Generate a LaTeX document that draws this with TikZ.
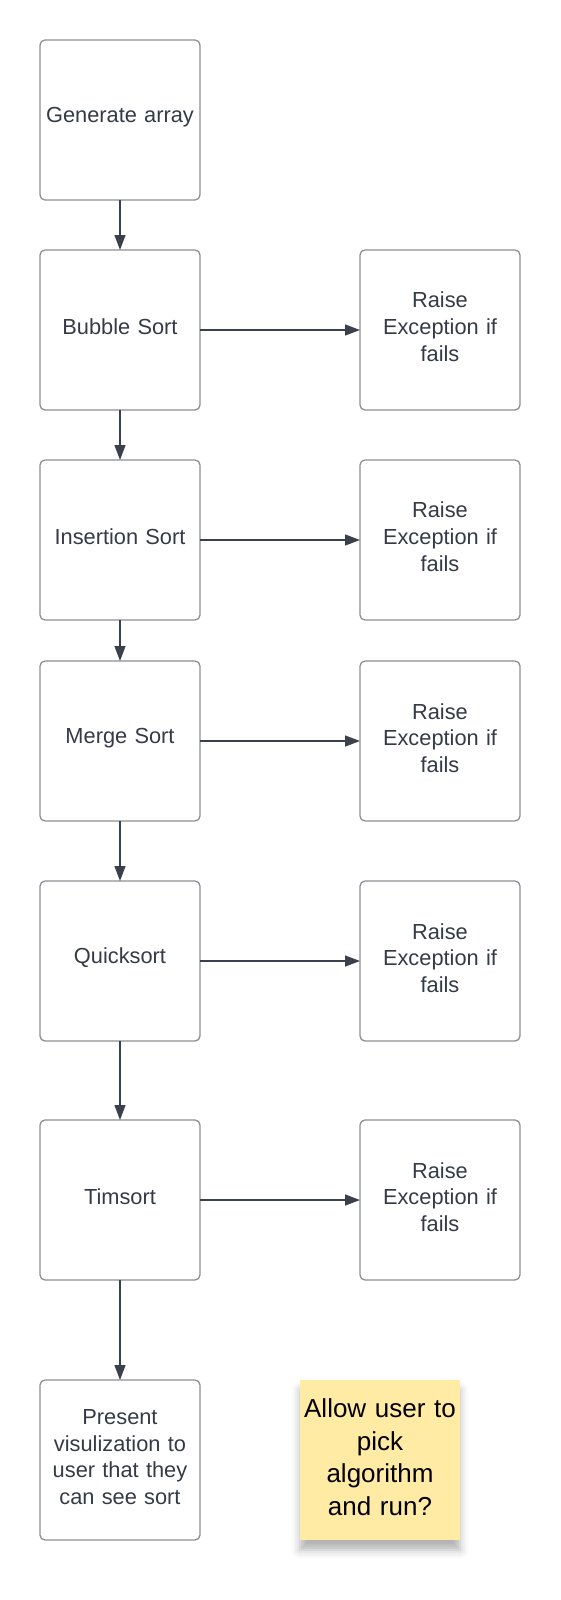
\documentclass[tikz,border=0pt]{standalone}
\usepackage{fontspec}
\setmainfont{Liberation Sans}
\usetikzlibrary{arrows.meta,positioning,shadows.blur}
\definecolor{boxline}{HTML}{8C8F94}
\definecolor{arrowline}{HTML}{3A414C}
\definecolor{boxtext}{HTML}{343A46}
\definecolor{stickyfill}{HTML}{FFEBA4}

\begin{document}
\begin{tikzpicture}[x=1pt,y=1pt,node distance=50pt,font=\fontsize{21.8}{26.8}\selectfont]
	\tikzset{
		stepbox/.style={draw=boxline,line width=1.3pt,rounded corners=5pt,minimum width=160pt,minimum height=160pt,text width=152pt,align=center,text=boxtext,inner sep=0pt,outer sep=0pt,execute at end node={\par\vspace{6pt}}},
		sticky/.style={fill=stickyfill,minimum width=160pt,minimum height=160pt,text width=156pt,align=center,inner sep=0pt,outer sep=0pt,font=\fontsize{26}{32.5}\selectfont,execute at end node={\par\vspace{6pt}},blur shadow={shadow xshift=0pt,shadow yshift=-10pt,shadow blur radius=8pt,shadow opacity=30}},
		flow/.style={draw=arrowline,line width=1.3pt,-{Triangle[length=15pt,width=11pt]}}
	}
	\useasboundingbox (0,0) rectangle (560,-1600);
	
	\node[stepbox]  (GEN)  at (120,-120)          {Generate array};
	\node[stepbox]  (BUB)  [below=50pt of GEN]    {Bubble Sort};
	\node[stepbox]  (INS)  [below=50pt of BUB]    {Insertion Sort};
	\node[stepbox]  (MRG)  [below=41pt of INS]    {Merge Sort};
	\node[stepbox]  (QCK)  [below=60pt of MRG]    {Quicksort};
	\node[stepbox]  (TIM)  [below=79pt of QCK]    {Timsort};
	\node[stepbox]  (VIS)  [below=100pt of TIM]   {Present\\visulization to\\user that they\\can see sort};
	
	\node[stepbox]  (EBUB) [right=160pt of BUB]   {Raise\\Exception if\\fails};
	\node[stepbox]  (EINS) [right=160pt of INS]   {Raise\\Exception if\\fails};
	\node[stepbox]  (EMRG) [right=160pt of MRG]   {Raise\\Exception if\\fails};
	\node[stepbox]  (EQCK) [right=160pt of QCK]   {Raise\\Exception if\\fails};
	\node[stepbox]  (ETIM) [right=160pt of TIM]   {Raise\\Exception if\\fails};
	
	\node[sticky]   (NOTE) [right=100pt of VIS]   {Allow user to\\pick\\algorithm\\and run?};
	
	\draw[flow] (GEN) -- (BUB);
	\draw[flow] (BUB) -- (INS);
	\draw[flow] (INS) -- (MRG);
	\draw[flow] (MRG) -- (QCK);
	\draw[flow] (QCK) -- (TIM);
	\draw[flow] (TIM) -- (VIS);
	
	\draw[flow] (BUB) -- (EBUB);
	\draw[flow] (INS) -- (EINS);
	\draw[flow] (MRG) -- (EMRG);
	\draw[flow] (QCK) -- (EQCK);
	\draw[flow] (TIM) -- (ETIM);
\end{tikzpicture}
\end{document}
